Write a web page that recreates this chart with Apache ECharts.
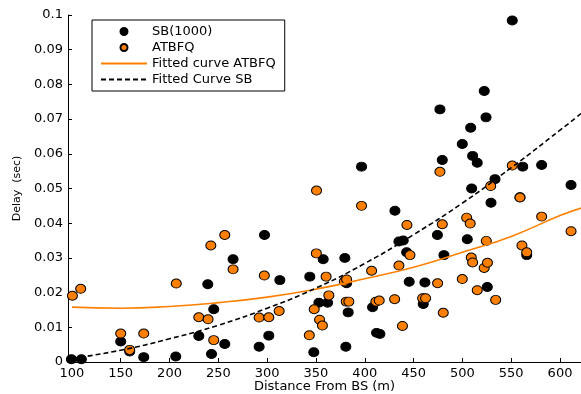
<!DOCTYPE html>
<html>
<head>
<meta charset="utf-8">
<script src="https://cdn.jsdelivr.net/npm/echarts@6/dist/echarts.min.js"></script>
<style>
  html, body { margin: 0; padding: 0; background: #fff; }
  #chart { width: 581px; height: 394px; }
</style>
</head>
<body>
<div id="chart"></div>
<script>
// SB(1000) measurements
const sbDist = [99.5, 109.7, 150, 159.2, 173.6, 206.4, 230, 239.2, 243, 245.3, 256.6, 265.1, 291.8, 297.3, 301.7, 313, 343.7, 347.8, 353, 357.4, 361.9, 379.6, 381.4, 380.6, 383, 396.7, 408, 412.1, 415.5, 430.9, 435, 439.4, 442.9, 445.5, 459.9, 461.6, 474.4, 477, 479.4, 481.1, 499.9, 505, 508.5, 509.5, 510.5, 515.2, 522.4, 524.2, 525.5, 529.3, 533.4, 551.1, 559, 561.8, 565.9, 581.2, 611.3];
const sbDelay = [0.0008, 0.0008, 0.0059, 0.0030, 0.0014, 0.0016, 0.0075, 0.0224, 0.0023, 0.0152, 0.0052, 0.0296, 0.0044, 0.0366, 0.0076, 0.0236, 0.0246, 0.0028, 0.0171, 0.0296, 0.0171, 0.0300, 0.0227, 0.0044, 0.0143, 0.0563, 0.0158, 0.0084, 0.0081, 0.0436, 0.0347, 0.0350, 0.0316, 0.0231, 0.0167, 0.0229, 0.0366, 0.0728, 0.0582, 0.0308, 0.0628, 0.0354, 0.0675, 0.0500, 0.0594, 0.0574, 0.0781, 0.0705, 0.0216, 0.0459, 0.0527, 0.0984, 0.0475, 0.0563, 0.0308, 0.0568, 0.0510];

// ATBFQ measurements
const atDist = [100.5, 109, 150, 159.2, 173.6, 206.9, 230, 239.5, 242.3, 245.3, 256.6, 265.1, 291.8, 297.1, 301.7, 312.3, 343.2, 348.2, 350.4, 350.6, 353.7, 356.6, 360.4, 363.2, 379.1, 381.4, 381, 383.7, 396.7, 407, 411.4, 414.8, 430.6, 435, 438.6, 443.2, 446.3, 459.3, 462.3, 474.6, 477, 479.4, 480.4, 499.9, 504.4, 508, 509.1, 510.5, 515.2, 522.3, 524.5, 525.7, 529, 534.1, 551.1, 559, 561, 565.9, 581.2, 611.3];
const atDelay = [0.0191, 0.0211, 0.0082, 0.0035, 0.0082, 0.0226, 0.0129, 0.0123, 0.0336, 0.0063, 0.0366, 0.0267, 0.0128, 0.0249, 0.0129, 0.0147, 0.0077, 0.0152, 0.0313, 0.0494, 0.0122, 0.0105, 0.0246, 0.0192, 0.0232, 0.0238, 0.0174, 0.0174, 0.0450, 0.0263, 0.0174, 0.0177, 0.0181, 0.0278, 0.0104, 0.0395, 0.0308, 0.0184, 0.0184, 0.0227, 0.0548, 0.0397, 0.0142, 0.0239, 0.0416, 0.0399, 0.0301, 0.0287, 0.0207, 0.0271, 0.0349, 0.0286, 0.0507, 0.0179, 0.0566, 0.0474, 0.0336, 0.0316, 0.0419, 0.0377];

// fitted curves
const fitDist = [100, 150, 200, 250, 300, 350, 400, 450, 500, 550, 600, 622];
const fitAtbfq = [0.0158, 0.0155, 0.0160, 0.0171, 0.0187, 0.0210, 0.0240, 0.0273, 0.0316, 0.0362, 0.0422, 0.0444];
const fitSb = [0.0010, 0.0034, 0.0067, 0.0106, 0.0155, 0.0213, 0.0284, 0.0367, 0.0458, 0.0560, 0.0668, 0.0717];

const xTicks = [100, 150, 200, 250, 300, 350, 400, 450, 500, 550, 600];

const font = 'DejaVu Sans';
const pairs = (xs, ys) => xs.map((x, i) => [x, ys[i]]);
// hide the little circle echarts puts in the middle of line legend icons
const noDot = { opacity: 0 };

const chart = echarts.init(document.getElementById('chart'));
chart.setOption({
  backgroundColor: '#fff',
  animation: false,
  textStyle: { fontFamily: font, color: '#000' },
  grid: { left: 68, right: 0, top: 15, bottom: 32, outerBoundsMode: 'none' },
  legend: {
    orient: 'vertical',
    left: 92,
    top: 20,
    padding: [5, 9, 5, 8],
    itemWidth: 46,
    itemHeight: 7,
    itemGap: 3,
    borderColor: '#000',
    borderWidth: 1,
    selectedMode: false,
    textStyle: { fontFamily: font, fontSize: 13, lineHeight: 13, color: '#000' },
    data: [
      { name: 'SB(1000)' },
      { name: 'ATBFQ' },
      { name: 'Fitted curve ATBFQ', itemStyle: noDot },
      { name: 'Fitted Curve SB', itemStyle: noDot }
    ]
  },
  xAxis: {
    type: 'value',
    min: 96,
    max: 621.5,
    name: 'Distance From BS (m)',
    nameLocation: 'middle',
    nameGap: 18,
    nameMoveOverlap: false,
    nameTextStyle: { fontFamily: font, fontSize: 13, color: '#000' },
    splitLine: { show: false },
    axisLine: { lineStyle: { color: '#000', width: 1 } },
    axisTick: { inside: true, length: 4, customValues: xTicks, lineStyle: { color: '#000' } },
    axisLabel: { customValues: xTicks, margin: 5, fontFamily: font, fontSize: 13, color: '#000' }
  },
  yAxis: {
    type: 'value',
    min: 0,
    max: 0.1,
    interval: 0.01,
    name: 'Delay  (sec)',
    nameLocation: 'middle',
    nameGap: 45,
    nameMoveOverlap: false,
    nameTextStyle: { fontFamily: font, fontSize: 11, color: '#000' },
    splitLine: { show: false },
    axisLine: { show: true, lineStyle: { color: '#000', width: 1 } },
    axisTick: { show: true, inside: true, length: 4, lineStyle: { color: '#000' } },
    axisLabel: { margin: 5, fontFamily: font, fontSize: 13, color: '#000' }
  },
  series: [
    {
      name: 'SB(1000)',
      type: 'scatter',
      symbol: 'circle',
      symbolSize: [10, 9],
      itemStyle: { color: '#000', borderColor: '#000', borderWidth: 1, opacity: 1 },
      data: pairs(sbDist, sbDelay)
    },
    {
      name: 'ATBFQ',
      type: 'scatter',
      symbol: 'circle',
      symbolSize: [10, 9],
      itemStyle: { color: '#ff8000', borderColor: '#000', borderWidth: 1, opacity: 1 },
      data: pairs(atDist, atDelay)
    },
    {
      name: 'Fitted curve ATBFQ',
      type: 'line',
      symbol: 'none',
      smooth: true,
      lineStyle: { color: '#ff8000', width: 1.6 },
      itemStyle: { color: '#ff8000' },
      data: pairs(fitDist, fitAtbfq)
    },
    {
      name: 'Fitted Curve SB',
      type: 'line',
      symbol: 'none',
      smooth: true,
      lineStyle: { color: '#000', width: 1.6, type: [5, 3] },
      itemStyle: { color: '#000' },
      data: pairs(fitDist, fitSb)
    }
  ]
});
</script>
</body>
</html>
